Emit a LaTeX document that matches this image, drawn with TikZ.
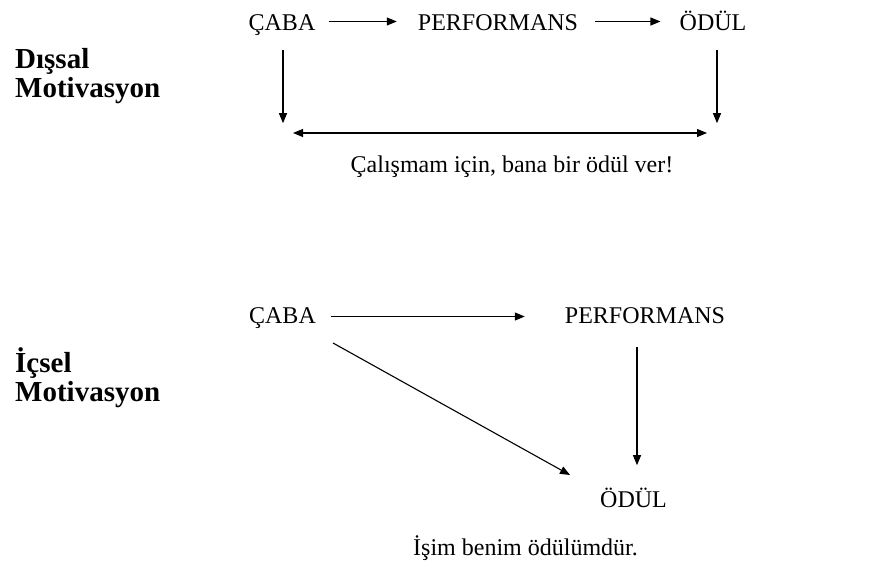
\documentclass[tikz,border=0pt]{standalone}
\usepackage{fontspec}
\setmainfont{Liberation Serif}
\usetikzlibrary{arrows.meta}
\begin{document}
\begin{tikzpicture}[x=1pt,y=-1pt,
  lbl/.style={inner sep=0pt,anchor=base,font=\fontsize{24}{28}\selectfont,text height=17pt,text depth=0pt},
  side/.style={inner sep=0pt,anchor=base west,font=\fontsize{29}{29}\selectfont\bfseries},
  msg/.style={inner sep=0pt,anchor=base,font=\fontsize{24}{28}\selectfont},
  arr/.style={line width=1.1pt,-{Triangle[length=10pt,width=8pt]}},
  darr/.style={line width=1.1pt,{Triangle[length=10pt,width=8pt]}-{Triangle[length=10pt,width=8pt]}}]
\useasboundingbox (0,0) rectangle (896,568);
% left labels
\node[side] (d1) at (15,68) {Dışsal};
\node[side] (d2) at (15,97) {Motivasyon};
\node[side] (i1) at (15,372) {İçsel};
\node[side] (i2) at (15,401) {Motivasyon};
% top diagram
\node[lbl] (caba1) at (282,30) {ÇABA};
\node[lbl] (perf1) at (498,30) {PERFORMANS};
\node[lbl] (odul1) at (713,30) {ÖDÜL};
\node[msg] (msg1) at (512,172) {Çalışmam için, bana bir ödül ver!};
\draw[arr] ([xshift=13pt]caba1.east) -- ([xshift=-21pt]perf1.west);
\draw[arr] ([xshift=17pt]perf1.east) -- ([xshift=-19pt]odul1.west);
\draw[arr] ([xshift=1pt,yshift=-20pt]caba1.south) -- ([xshift=1pt,yshift=-93pt]caba1.south);
\draw[arr] ([xshift=4pt,yshift=-20pt]odul1.south) -- ([xshift=4pt,yshift=-93pt]odul1.south);
\coordinate (da1) at (293,133);
\coordinate (da2) at (707,133);
\draw[darr] (da1) -- (da2);
% bottom diagram
\node[lbl] (caba2) at (282.5,323) {ÇABA};
\node[lbl] (perf2) at (645,323) {PERFORMANS};
\node[lbl] (odul2) at (633.5,507) {ÖDÜL};
\node[msg] (msg2) at (525.5,555) {İşim benim ödülümdür.};
\draw[arr] ([xshift=15pt,yshift=-2pt]caba2.east) -- ([xshift=-40pt,yshift=-2pt]perf2.west);
\draw[arr] ([xshift=-8pt,yshift=-24pt]perf2.south) -- ([xshift=-8pt,yshift=-142pt]perf2.south);
\coordinate (dg1) at (333,343);
\coordinate (dg2) at (570,475);
\draw[arr] (dg1) -- (dg2);
\end{tikzpicture}
\end{document}
